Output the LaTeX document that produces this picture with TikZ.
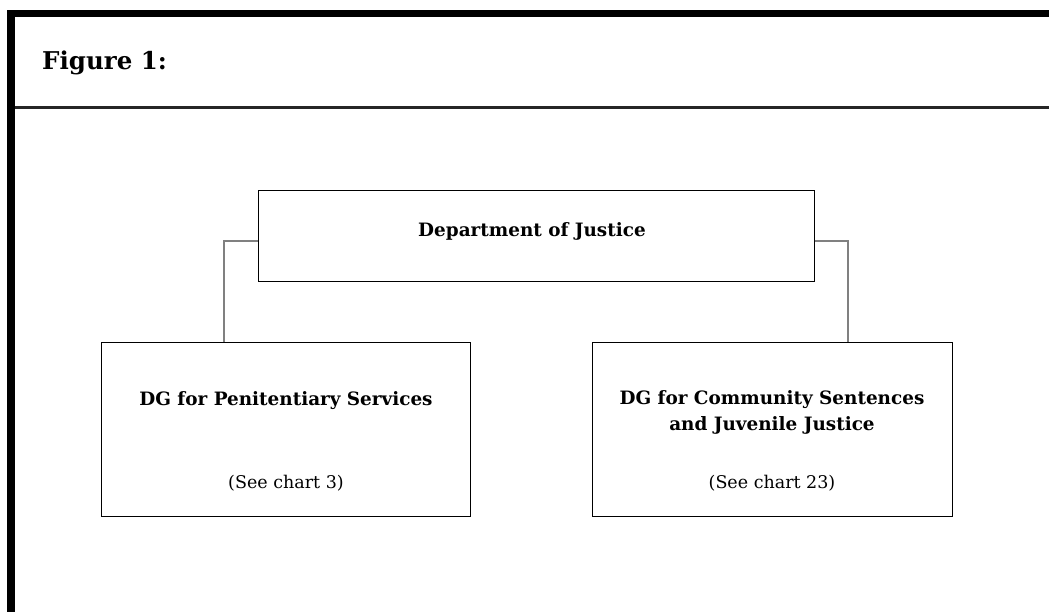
\documentclass[tikz,border=0pt]{standalone}
\usepackage{fontspec}
\setmainfont{DejaVu Serif}
\begin{document}
\begin{tikzpicture}[x=1pt,y=-1pt,
  orgbox/.style={draw=black,line width=1pt,rectangle,inner sep=0pt},
  titletext/.style={font=\fontsize{18.4}{26.5}\selectfont\bfseries,align=center,inner sep=0pt,anchor=base},
  seetext/.style={font=\fontsize{17.5}{21}\selectfont,inner sep=0pt,anchor=base},
  link/.style={draw=gray,line width=1.4pt}]
\useasboundingbox (0,0) rectangle (1049,612);
\fill[white] (0,0) rectangle (1049,612);
% frame
\fill[black] (7,10) rectangle (1049,17);
\fill[black] (7,10) rectangle (15,612);
\fill[black!85] (15,106) rectangle (1049,108.6);
\node[anchor=base west,inner sep=0pt,font=\fontsize{24.5}{28}\selectfont\bfseries] (fig) at (42,70) {Figure 1:};
% boxes
\node[orgbox,minimum width=556pt,minimum height=91pt] (doj) at (536,236.5) {};
\node[titletext] (dojt) at (532,237) {Department of Justice};
\node[orgbox,minimum width=369pt,minimum height=174pt] (pen) at (286,429) {};
\node[titletext] (pent) at (286,405) {DG for Penitentiary Services};
\node[seetext] (pens) at (286,488) {(See chart 3)};
\node[orgbox,minimum width=360pt,minimum height=174pt] (com) at (772,429) {};
\node[titletext,anchor=north] (comt) at (772,390) {DG for Community Sentences\\and Juvenile Justice};
\node[seetext] (coms) at (772,488) {(See chart 23)};
% connectors
\coordinate (lc) at (224,241);
\coordinate (rc) at (848,241);
\draw[link] (doj.west |- lc) -- (lc) -- (lc |- pen.north);
\draw[link] (doj.east |- rc) -- (rc) -- (rc |- com.north);
\end{tikzpicture}
\end{document}
